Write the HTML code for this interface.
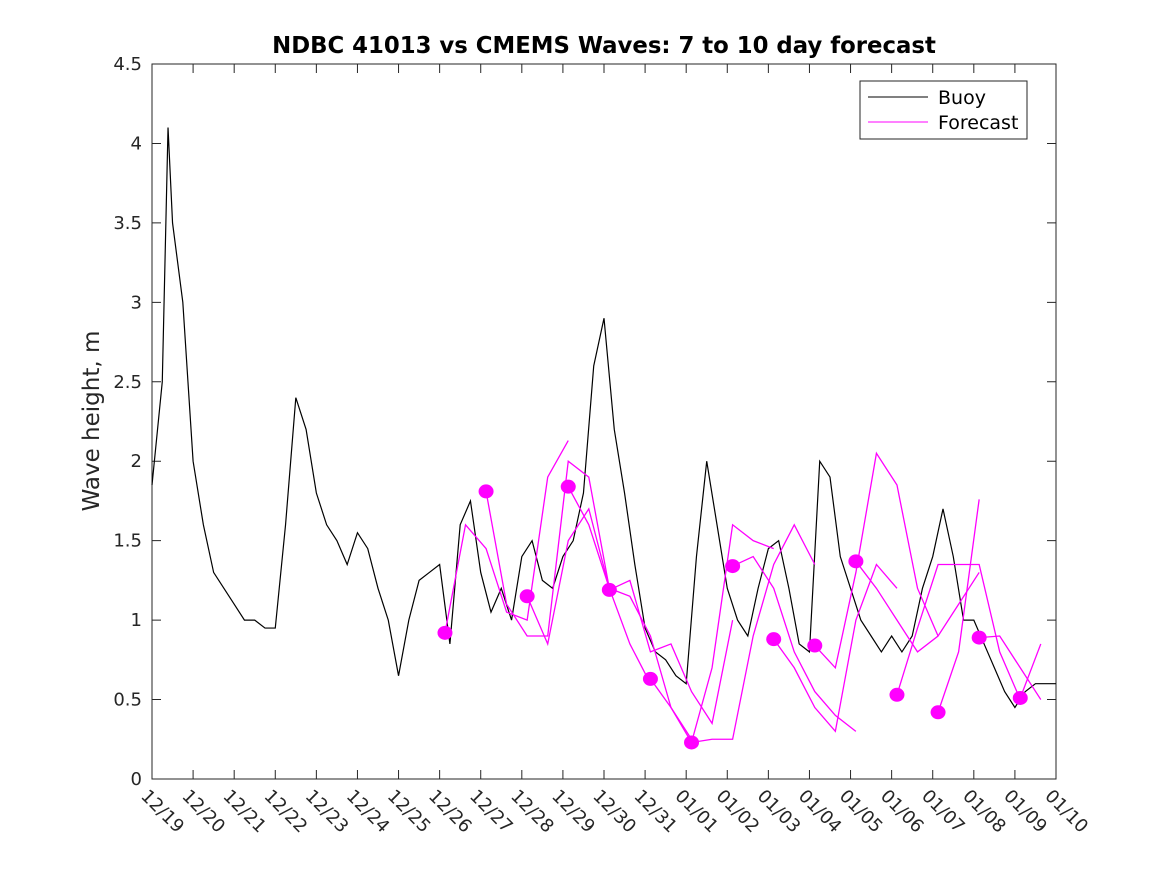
<!DOCTYPE html>
<html><head><meta charset="utf-8"><style>body{margin:0;background:#fff}svg text{font-family:"DejaVu Sans","Liberation Sans",sans-serif}</style></head>
<body>
<svg id="c" width="1167" height="875" viewBox="0 0 1167 875" xmlns="http://www.w3.org/2000/svg">
<rect width="1167" height="875" fill="#fff"/>
<g id="plot"></g>
</svg>
<script>
const xTickLabels=["12/19","12/20","12/21","12/22","12/23","12/24","12/25","12/26","12/27","12/28","12/29","12/30","12/31","01/01","01/02","01/03","01/04","01/05","01/06","01/07","01/08","01/09","01/10"];
const yTickLabels=["0","0.5","1","1.5","2","2.5","3","3.5","4","4.5"];
const yTickValues=[0,0.5,1,1.5,2,2.5,3,3.5,4,4.5];
// buoy values every 6 hours starting 12/19 00:00
const buoyValues=[1.85,2.5,3.5,3.0,2.0,1.6,1.3,1.2,1.1,1.0,1.0,0.95,0.95,1.6,2.4,2.2,1.8,1.6,1.5,1.35,1.55,1.45,1.2,1.0,0.65,1.0,1.25,1.3,1.35,0.85,1.6,1.75,1.3,1.05,1.2,1.0,1.4,1.5,1.25,1.2,1.4,1.5,1.8,2.6,2.9,2.2,1.8,1.35,0.95,0.8,0.75,0.65,0.6,1.4,2.0,1.6,1.2,1.0,0.9,1.2,1.45,1.5,1.2,0.85,0.8,2.0,1.9,1.4,1.2,1.0,0.9,0.8,0.9,0.8,0.9,1.2,1.4,1.7,1.4,1.0,1.0,0.85,0.7,0.55,0.45,0.55,0.6,0.6,0.6];
const buoyPeak=[0.39,4.1];
// forecast start days (days since 12/19) and values every 12 hours
const forecastStarts=[7.13,8.13,9.13,10.13,11.13,12.13,13.13,14.13,15.13,16.13,17.13,18.13,19.13,20.13,21.13];
const forecastValues=[
[0.92,1.6,1.45,1.05,1.0,1.9,2.13],
[1.81,1.1,0.9,0.9,2.0,1.9,1.2],
[1.15,0.85,1.5,1.7,1.2,0.85,0.6],
[1.84,1.6,1.2,1.15,0.9,0.45,0.25],
[1.19,1.25,0.8,0.85,0.55,0.35,1.0],
[0.63,0.45,0.23,0.7,1.6,1.5,1.45],
[0.23,0.25,0.25,0.9,1.35,1.6,1.35],
[1.34,1.4,1.2,0.8,0.55,0.4,0.3],
[0.88,0.7,0.45,0.3,1.0,1.35,1.2],
[0.84,0.7,1.3,2.05,1.85,1.2,0.9],
[1.37,1.2,1.0,0.8,0.9,1.1,1.3],
[0.53,0.95,1.35,1.35,1.35,0.8,0.5],
[0.42,0.8,1.76],
[0.89,0.9,0.7,0.5,0.6,0.65],
[0.51,0.85,1.15]
];
const NS="http://www.w3.org/2000/svg";
const L=152,R=1056,T=64,B=779;
const xs=d=>L+d*(R-L)/22;
const ys=v=>B-v*(B-T)/4.5;
const g=document.getElementById('plot');
function mk(t,a,txt){const e=document.createElementNS(NS,t);for(const k in a)e.setAttribute(k,a[k]);if(txt!==undefined)e.textContent=txt;g.appendChild(e);return e;}
const box=mk('rect',{x:L,y:T,width:R-L,height:B-T,fill:'none',stroke:'#262626','stroke-width':1});


yTickValues.forEach((v,i)=>{
 const y=ys(v);
 const t1=mk('path',{d:`M${L},${y}h9M${R},${y}h-9`,stroke:'#262626','stroke-width':1});
 
 
 const tx=mk('text',{x:L-10,y:y+6,'text-anchor':'end','font-size':18,fill:'#262626'},yTickLabels[i]);
 
 
});
xTickLabels.forEach((lab,i)=>{
 const x=xs(i);
 const t1=mk('path',{d:`M${x},${B}v-9M${x},${T}v9`,stroke:'#262626','stroke-width':1});
 
 
 const tx=mk('text',{x:x-12,y:B+18,'font-size':18,fill:'#262626',transform:`rotate(45 ${x-12} ${B+18})`},lab);
 
 
});
let pts=[];
buoyValues.forEach((v,i)=>{const d=i*0.25;pts.push([d,v]);});
pts.splice(2,0,buoyPeak);
const bl=mk('polyline',{points:pts.map(p=>xs(p[0])+','+ys(p[1])).join(' '),fill:'none',stroke:'#000','stroke-width':1.2});


forecastValues.forEach((vals,k)=>{
 const s=forecastStarts[k];
 const p=vals.map((v,j)=>[s+j*0.5,v]).filter(q=>q[0]<=22.01);
 const fl=mk('polyline',{points:p.map(q=>xs(q[0])+','+ys(q[1])).join(' '),fill:'none',stroke:'#ff00ff','stroke-width':1.3});
 
 
 const dt=mk('ellipse',{cx:xs(s),cy:ys(vals[0]),rx:7.5,ry:7,fill:'#ff00ff'});
 
 
});
const ti=mk('text',{x:604,y:53,'text-anchor':'middle','font-size':22.8,'font-weight':'bold',fill:'#000'},'NDBC 41013 vs CMEMS Waves: 7 to 10 day forecast');


const yt=mk('text',{x:99,y:421,'text-anchor':'middle','font-size':23,fill:'#262626',transform:'rotate(-90 99 421)'},'Wave height, m');


const lg=mk('rect',{x:860,y:81,width:167,height:58,fill:'#fff',stroke:'#262626','stroke-width':1});


const l1=mk('path',{d:'M868,97h60',stroke:'#000','stroke-width':1});


const l1t=mk('text',{x:938,y:104,'font-size':19,fill:'#000'},'Buoy');


const l2=mk('path',{d:'M868,122h60',stroke:'#ff00ff','stroke-width':1});


const l2t=mk('text',{x:938,y:129,'font-size':19,fill:'#000'},'Forecast');


</script>
</body></html>
